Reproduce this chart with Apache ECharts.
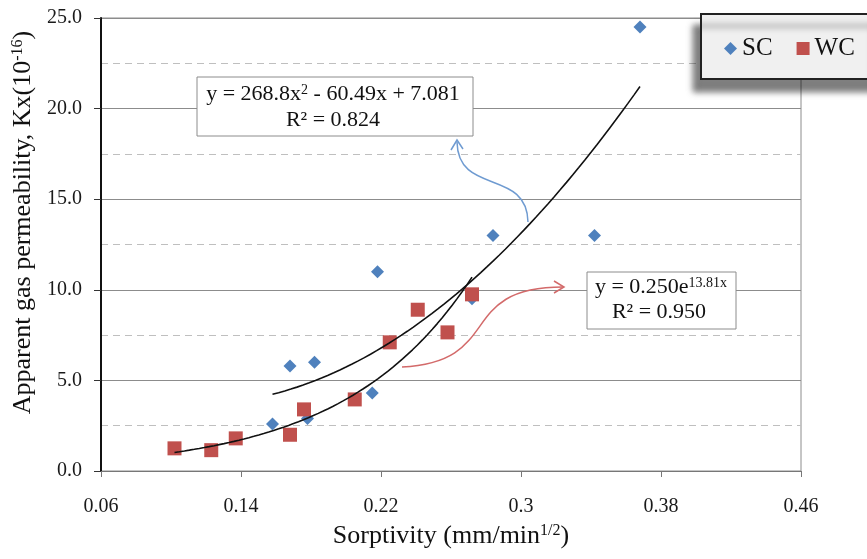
<!DOCTYPE html>
<html>
<head>
<meta charset="utf-8">
<script src="https://cdn.jsdelivr.net/npm/echarts@6/dist/echarts.min.js"></script>
<style>
  html, body { margin: 0; padding: 0; background: #fff; }
  #chart { width: 867px; height: 559px; }
</style>
</head>
<body>
<div id="chart"></div>
<script>
// SC points (sorptivity, permeability)
const scX = [0.368, 0.342, 0.284, 0.218, 0.168, 0.182, 0.215, 0.272, 0.158, 0.178];
const scY = [24.5, 13.0, 13.0, 11.0, 5.8, 6.0, 4.3, 9.5, 2.6, 2.9];
// WC points
const wcX = [0.102, 0.123, 0.137, 0.168, 0.176, 0.205, 0.225, 0.241, 0.258, 0.272];
const wcY = [1.25, 1.15, 1.8, 2.0, 3.4, 3.95, 7.1, 8.9, 7.65, 9.75];

// trendline coefficients as printed on the chart
const quadCoef = [268.8, -60.49, 7.081]; // SC, polynomial
const expCoef = [0.250, 13.81];          // WC, exponential
const quadRange = [0.158, 0.368];
const expRange = [0.102, 0.272];

const xTicks = [0.06, 0.14, 0.22, 0.30, 0.38, 0.46];
const yTicks = [0, 5, 10, 15, 20, 25];

const FONT = "'Liberation Serif', 'Times New Roman', serif";
const BLUE = '#4f81bd';
const RED = '#c0504d';

function curve(range, fn) {
    const pts = [];
    const n = 60;
    for (let i = 0; i <= n; i++) {
        const x = range[0] + (range[1] - range[0]) * i / n;
        pts.push([x, fn(x)]);
    }
    return pts;
}

const quadLine = curve(quadRange, x => quadCoef[0] * x * x + quadCoef[1] * x + quadCoef[2]);
const expLine = curve(expRange, x => expCoef[0] * Math.exp(expCoef[1] * x));

const chart = echarts.init(document.getElementById('chart'));

const titleRich = {
    sup: { fontSize: 16, fontFamily: FONT, verticalAlign: 'top', color: '#111' }
};
const eqRich = {
    sup: { fontSize: 14, fontFamily: FONT, verticalAlign: 'top', color: '#111' }
};

const option = {
    backgroundColor: '#fff',
    animation: false,
    grid: {
        left: 101, right: 66, top: 18, bottom: 88,
        show: true, borderColor: '#8c8c8c', borderWidth: 1
    },
    legend: {
        left: 724, top: 36, z: 20, padding: 0,
        itemWidth: 13, itemHeight: 13, itemGap: 24,
        textStyle: { fontFamily: FONT, fontSize: 25, color: '#111' },
        data: [{ name: 'SC', icon: 'diamond' }, { name: 'WC', icon: 'rect' }]
    },
    xAxis: {
        type: 'value',
        min: xTicks[0], max: xTicks[xTicks.length - 1], interval: 0.08,
        name: 'Sorptivity (mm/min{sup|1/2})',
        nameLocation: 'middle', nameGap: 52,
        nameTextStyle: { fontFamily: FONT, fontSize: 26, color: '#111', rich: titleRich },
        axisLine: { show: true, onZero: false, lineStyle: { color: '#777', width: 1 } },
        axisTick: { show: true, length: 6, lineStyle: { color: '#777' } },
        axisLabel: {
            margin: 26, fontFamily: FONT, fontSize: 20, color: '#1a1a1a',
            formatter: v => String(parseFloat(v.toFixed(2)))
        },
        splitLine: { show: false }
    },
    yAxis: {
        type: 'value',
        min: yTicks[0], max: yTicks[yTicks.length - 1], interval: 5,
        name: 'Apparent gas permeability, Kx(10{sup|-16})',
        nameLocation: 'middle', nameGap: 60, nameRotate: 90,
        nameTextStyle: {
            fontFamily: FONT, fontSize: 26, color: '#111', rich: titleRich,
            padding: [0, 0, 0, 44]
        },
        axisLine: { show: true, lineStyle: { color: '#111', width: 2 } },
        axisTick: { show: true, length: 7, lineStyle: { color: '#333' } },
        axisLabel: {
            margin: 19, fontFamily: FONT, fontSize: 20, color: '#1a1a1a',
            formatter: v => v.toFixed(1)
        },
        splitLine: { show: true, lineStyle: { color: '#8c8c8c', width: 1 } },
        minorTick: { show: false, splitNumber: 2 },
        minorSplitLine: { show: true, lineStyle: { color: '#bfbfbf', type: [7, 5], width: 1 } }
    },
    series: [
        {
            name: 'SC', type: 'scatter', symbol: 'diamond', symbolSize: 13,
            itemStyle: { color: BLUE, opacity: 1 },
            data: scX.map((x, i) => [x, scY[i]]), z: 3
        },
        {
            name: 'WC', type: 'scatter', symbol: 'rect', symbolSize: 14,
            itemStyle: { color: RED, opacity: 1 },
            data: wcX.map((x, i) => [x, wcY[i]]), z: 4
        },
        {
            name: 'SC trend', type: 'line', showSymbol: false, symbol: 'none',
            lineStyle: { color: '#111', width: 1.6 }, data: quadLine, z: 5
        },
        {
            name: 'WC trend', type: 'line', showSymbol: false, symbol: 'none',
            lineStyle: { color: '#111', width: 1.6 }, data: expLine, z: 5
        }
    ],
    graphic: [
        // legend box
        {
            type: 'rect', z: 10,
            shape: { x: 701, y: 14, width: 180, height: 65 },
            style: {
                fill: '#f0f0f0', stroke: '#222', lineWidth: 2,
                shadowBlur: 6, shadowColor: 'rgba(0,0,0,0.5)', shadowOffsetX: -7, shadowOffsetY: 12
            }
        },
        // polynomial equation box
        {
            type: 'rect', z: 10,
            shape: { x: 197, y: 77, width: 276, height: 59 },
            style: { fill: '#fff', stroke: '#8c8c8c', lineWidth: 1 }
        },
        {
            type: 'text', z: 11, x: 333, y: 94,
            style: {
                text: 'y = 268.8x{sup|2} - 60.49x + 7.081',
                fontFamily: FONT, fontSize: 22, fill: '#111',
                align: 'center', verticalAlign: 'middle', rich: eqRich
            }
        },
        {
            type: 'text', z: 11, x: 333, y: 120,
            style: {
                text: 'R² = 0.824', fontFamily: FONT, fontSize: 22, fill: '#111',
                align: 'center', verticalAlign: 'middle'
            }
        },
        // exponential equation box
        {
            type: 'rect', z: 10,
            shape: { x: 587, y: 272, width: 149, height: 57 },
            style: { fill: '#fff', stroke: '#8c8c8c', lineWidth: 1 }
        },
        {
            type: 'text', z: 11, x: 661, y: 287,
            style: {
                text: 'y = 0.250e{sup|13.81x}',
                fontFamily: FONT, fontSize: 22, fill: '#111',
                align: 'center', verticalAlign: 'middle', rich: eqRich
            }
        },
        {
            type: 'text', z: 11, x: 659, y: 312,
            style: {
                text: 'R² = 0.950', fontFamily: FONT, fontSize: 22, fill: '#111',
                align: 'center', verticalAlign: 'middle'
            }
        },
        // curved arrows
        {
            type: 'bezierCurve', z: 9,
            shape: { x1: 528, y1: 222, cpx1: 527, cpy1: 168, cpx2: 458, cpy2: 196, x2: 457, y2: 142 },
            style: { stroke: '#6f9bd1', lineWidth: 1.5, fill: null }
        },
        {
            type: 'polyline', z: 9,
            shape: { points: [[451, 150], [457, 140], [463, 149]] },
            style: { stroke: '#6f9bd1', lineWidth: 1.5, fill: null }
        },
        {
            type: 'bezierCurve', z: 9,
            shape: { x1: 402, y1: 367, cpx1: 505, cpy1: 362, cpx2: 455, cpy2: 287, x2: 563, y2: 287 },
            style: { stroke: '#d36a6a', lineWidth: 1.5, fill: null }
        },
        {
            type: 'polyline', z: 9,
            shape: { points: [[554, 281], [564, 287], [554, 293]] },
            style: { stroke: '#d36a6a', lineWidth: 1.5, fill: null }
        }
    ]
};

chart.setOption(option);
</script>
</body>
</html>
